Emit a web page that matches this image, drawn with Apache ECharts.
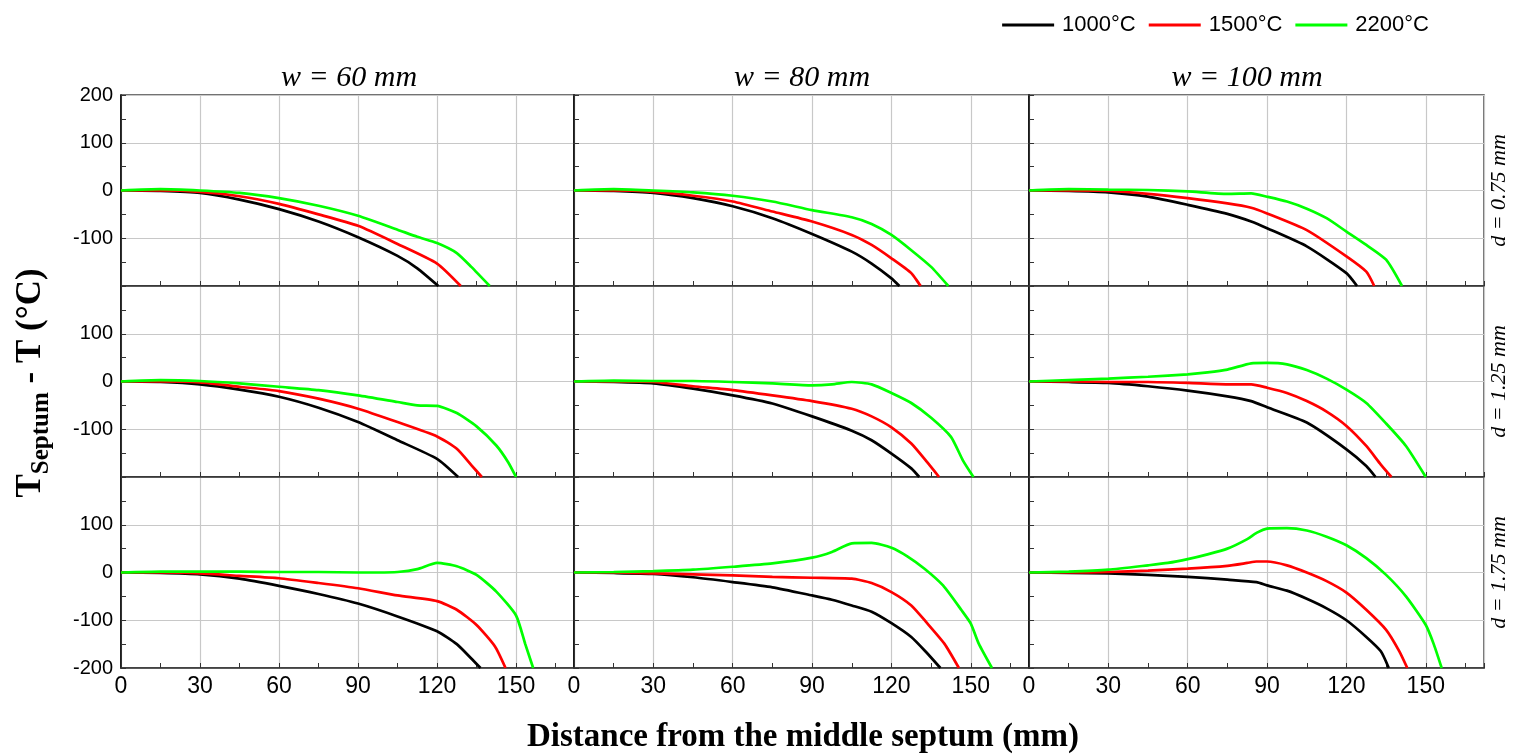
<!DOCTYPE html>
<html>
<head>
<meta charset="utf-8">
<script src="https://cdn.jsdelivr.net/npm/echarts@6/dist/echarts.min.js"></script>
<style>
  html, body { margin: 0; padding: 0; background: #fff; }
  #chart { width: 1520px; height: 754px; }
</style>
</head>
<body>
<div id="chart"></div>
<script>
// Panel headings: septum width (columns) and wall thickness (rows)
const widthLabels = ['w = 60 mm', 'w = 80 mm', 'w = 100 mm'];
const thicknessLabels = ['d = 0.75 mm', 'd = 1.25 mm', 'd = 1.75 mm'];
const temperatures = ['1000°C', '1500°C', '2200°C'];
const lineColors = ['#000000', '#ff0000', '#00ff00'];

// [distance mm, T_septum - T °C] for each panel and temperature
const w60_d075_t1000 = [[0,0],[15,-1],[30,-5],[45,-19],[60,-39],[75,-65],[90,-98],[105,-137],[112.5,-163],[120.5,-200]];
const w60_d075_t1500 = [[0,0],[15,0],[30,-3],[45,-12],[60,-28],[75,-50],[90,-74],[105,-112],[120,-153],[129,-200]];
const w60_d075_t2200 = [[0,0],[15,3],[30,0],[45,-5],[60,-16],[75,-32],[90,-53],[105,-82],[112.5,-97],[120,-110],[127.5,-131],[133,-160],[140,-200]];

const w80_d075_t1000 = [[0,0],[15,-1],[30,-5],[45,-16],[60,-33],[75,-58],[90,-91],[105,-128],[112.5,-153],[120,-184],[123,-200]];
const w80_d075_t1500 = [[0,0],[15,0],[30,-3],[45,-11],[60,-23],[75,-44],[90,-65],[105,-93],[112.5,-114],[120,-142],[127.5,-173],[131,-200]];
const w80_d075_t2200 = [[0,0],[15,3],[30,0],[45,-4],[60,-11],[75,-23],[90,-41],[105,-56],[112.5,-70],[120,-93],[127.5,-125],[135,-160],[141.5,-200]];

const w100_d075_t1000 = [[0,0],[15,-1],[30,-4],[45,-13],[60,-30],[75,-49],[84,-65],[90,-79],[105,-117],[120,-173],[124,-200]];
const w100_d075_t1500 = [[0,0],[15,0],[30,-1],[45,-7],[60,-16],[75,-27],[84,-36],[90,-48],[105,-83],[120,-138],[127.5,-170],[130.5,-200]];
const w100_d075_t2200 = [[0,0],[15,3],[30,2],[45,1],[60,-2],[75,-7],[84,-6],[90,-13],[97.5,-23],[105,-38],[112.5,-58],[120,-86],[127.5,-114],[135,-145],[141,-200]];

const w60_d125_t1000 = [[0,0],[15,-1],[30,-6],[45,-17],[60,-32],[75,-55],[90,-85],[105,-123],[120,-162],[128,-200]];
const w60_d125_t1500 = [[0,0],[15,0],[30,-2],[45,-11],[60,-20],[75,-36],[90,-57],[105,-85],[120,-115],[127.5,-141],[133,-175],[137,-200]];
const w60_d125_t2200 = [[0,0],[15,3],[30,1],[45,-4],[60,-11],[75,-18],[90,-29],[105,-43],[112.5,-50],[120,-51],[127.5,-66],[135,-94],[142.5,-134],[147,-169],[150,-200]];

const w80_d125_t1000 = [[0,0],[15,-1],[30,-4],[45,-15],[60,-29],[75,-46],[90,-73],[105,-103],[112.5,-123],[120,-151],[127.5,-182],[130.5,-200]];
const w80_d125_t1500 = [[0,0],[15,0],[30,-1],[45,-10],[60,-18],[75,-29],[90,-41],[105,-57],[112.5,-73],[120,-96],[127.5,-130],[133.5,-169],[138,-200]];
const w80_d125_t2200 = [[0,0],[15,2],[30,1],[45,1],[60,-1],[75,-4],[90,-8],[97.5,-6],[105,-1],[112.5,-6],[120,-24],[127.5,-45],[135,-76],[142.5,-116],[147,-165],[151,-200]];

const w100_d125_t1000 = [[0,0],[15,-1],[30,-3],[45,-10],[60,-19],[75,-31],[84,-41],[90,-54],[105,-86],[120,-142],[127.5,-177],[131,-200]];
const w100_d125_t1500 = [[0,0],[15,0],[30,-1],[45,-1],[60,-3],[75,-6],[84,-6],[90,-13],[97.5,-24],[105,-41],[112.5,-63],[120,-93],[127.5,-135],[133,-174],[137,-200]];
const w100_d125_t2200 = [[0,0],[15,3],[30,6],[45,10],[60,15],[67.5,19],[75,25],[84,38],[90,39],[97.5,36],[105,24],[112.5,6],[120,-17],[127.5,-45],[135,-88],[142.5,-135],[150,-200]];

const w60_d175_t1000 = [[0,0],[15,-1],[30,-4],[45,-13],[60,-28],[75,-45],[90,-65],[105,-92],[120,-123],[127.5,-150],[133,-180],[136.5,-200]];
const w60_d175_t1500 = [[0,0],[15,0],[30,-2],[45,-7],[60,-12],[75,-22],[90,-33],[105,-48],[120,-60],[127.5,-78],[135,-110],[142,-155],[146,-200]];
const w60_d175_t2200 = [[0,0],[15,2],[30,2],[45,2],[60,1],[75,1],[90,0],[97.5,0],[105,1],[112.5,7],[120,20],[127.5,13],[135,-5],[142.5,-40],[150,-90],[153.5,-150],[156.5,-200]];

const w80_d175_t1000 = [[0,0],[15,-1],[30,-3],[45,-10],[60,-20],[75,-31],[90,-48],[97.5,-57],[105,-69],[112.5,-82],[120,-106],[127.5,-135],[133,-166],[138.5,-200]];
const w80_d175_t1500 = [[0,0],[15,0],[30,-2],[45,-4],[60,-6],[75,-9],[90,-11],[105,-13],[112.5,-22],[120,-41],[127.5,-69],[133,-103],[140,-149],[145.5,-200]];
const w80_d175_t2200 = [[0,0],[15,1],[30,3],[45,6],[60,12],[75,19],[90,31],[97.5,43],[105,61],[112.5,62],[120,52],[126,34],[132.5,8],[139.5,-27],[146.5,-79],[150,-107],[153,-149],[158,-200]];

const w100_d175_t1000 = [[0,0],[15,-1],[30,-2],[45,-5],[60,-9],[75,-15],[86,-20],[90,-27],[97.5,-38],[105,-55],[112.5,-75],[120,-100],[127.5,-135],[133,-165],[136,-200]];
const w100_d175_t1500 = [[0,0],[15,0],[30,1],[45,4],[60,8],[75,14],[82.5,20],[86,23],[90,23],[97.5,15],[105,0],[112.5,-18],[120,-42],[127.5,-78],[135,-120],[140,-165],[143,-200]];
const w100_d175_t2200 = [[0,0],[15,2],[30,6],[45,15],[52.5,20],[60,28],[67.5,38],[75,50],[82.5,70],[86,83],[90,92],[97.5,93],[105,88],[112.5,75],[120,57],[127.5,30],[135,-5],[142.5,-50],[150,-110],[153,-150],[156,-200]];

// panels[row][col] -> curves in temperature order
const panels = [
  [[w60_d075_t1000, w60_d075_t1500, w60_d075_t2200], [w80_d075_t1000, w80_d075_t1500, w80_d075_t2200], [w100_d075_t1000, w100_d075_t1500, w100_d075_t2200]],
  [[w60_d125_t1000, w60_d125_t1500, w60_d125_t2200], [w80_d125_t1000, w80_d125_t1500, w80_d125_t2200], [w100_d125_t1000, w100_d125_t1500, w100_d125_t2200]],
  [[w60_d175_t1000, w60_d175_t1500, w60_d175_t2200], [w80_d175_t1000, w80_d175_t1500, w80_d175_t2200], [w100_d175_t1000, w100_d175_t1500, w100_d175_t2200]]
];

// Axis ranges
const X_MIN = 0, X_MAX = 172, X_STEP = 30;
const Y_MIN = -200, Y_MAX = 200, Y_STEP = 100;

// Layout of the 3x3 panel grid (px)
const colLeft = [121, 574, 1029];
const colWidth = [453, 455, 455];
const titleCenter = [349, 802, 1247];
const rowTop = [95, 286, 477];
const rowHeight = 191;

const SANS = '"Liberation Sans", Arial, sans-serif';
const SERIF = '"Liberation Serif", "Times New Roman", serif';

const grids = [], xAxes = [], yAxes = [], series = [];
for (let r = 0; r < 3; r++) {
  for (let c = 0; c < 3; c++) {
    const idx = r * 3 + c;
    grids.push({
      left: colLeft[c], top: rowTop[r], width: colWidth[c], height: rowHeight,
      containLabel: false, outerBoundsMode: 'none',
      show: true, borderColor: '#444', borderWidth: 1.5, backgroundColor: 'transparent'
    });
    xAxes.push({
      type: 'value', gridIndex: idx, min: X_MIN, max: X_MAX, interval: X_STEP,
      axisLine: { show: true, onZero: false, lineStyle: { color: '#333', width: 1.5 } },
      axisTick: { show: true, inside: true, length: 5, lineStyle: { color: '#333' } },
      minorTick: { show: true, splitNumber: 2, length: 5, lineStyle: { color: '#333' } },
      splitLine: { show: true, lineStyle: { color: '#c8c8c8', width: 1.2 } },
      axisLabel: {
        show: r === 2, showMaxLabel: false, margin: 7,
        fontSize: 23, color: '#000', fontFamily: SANS
      }
    });
    yAxes.push({
      type: 'value', gridIndex: idx, min: Y_MIN, max: Y_MAX, interval: Y_STEP,
      axisLine: { show: true, onZero: false, lineStyle: { color: '#000', width: 1.5 } },
      axisTick: { show: true, inside: true, length: 5, lineStyle: { color: '#333' } },
      minorTick: { show: true, splitNumber: 2, length: 5, lineStyle: { color: '#333' } },
      splitLine: { show: true, lineStyle: { color: '#c8c8c8', width: 1.2 } },
      axisLabel: {
        show: c === 0, showMinLabel: r === 2, showMaxLabel: r === 0, margin: 8,
        fontSize: 20, color: '#000', fontFamily: SANS
      }
    });
    panels[r][c].forEach((curve, k) => {
      series.push({
        type: 'line', name: temperatures[k], xAxisIndex: idx, yAxisIndex: idx,
        data: curve, symbol: 'none', clip: true, silent: true, smooth: 0.2,
        lineStyle: { color: lineColors[k], width: 2.7 },
        itemStyle: { color: lineColors[k] }
      });
    });
  }
}

// Measure text widths for the composed y-axis title
function textWidth(font, s) {
  const ctx = document.createElement('canvas').getContext('2d');
  ctx.font = font;
  return ctx.measureText(s).width;
}
const fontMain = 'bold 35px ' + SERIF;
const fontSub = 'bold 25px ' + SERIF;
const partA = 'T', partB = 'Septum', partC = ' - T (°C)';
const wA = textWidth(fontMain, partA), wB = textWidth(fontSub, partB), wC = textWidth(fontMain, partC);
const total = wA + wB + wC;
const x0 = -total / 2;

const graphics = [
  {
    type: 'group', x: 31, y: 383, rotation: Math.PI / 2,
    children: [
      { type: 'text', x: x0, y: 0, style: { text: partA, font: fontMain, fill: '#000', align: 'left', verticalAlign: 'middle' } },
      { type: 'text', x: x0 + wA, y: 11, style: { text: partB, font: fontSub, fill: '#000', align: 'left', verticalAlign: 'middle' } },
      { type: 'text', x: x0 + wA + wB, y: 0, style: { text: partC, font: fontMain, fill: '#000', align: 'left', verticalAlign: 'middle' } }
    ]
  },
  {
    type: 'text', x: 803, y: 737,
    style: { text: 'Distance from the middle septum (mm)', font: 'bold 33px ' + SERIF, fill: '#000', align: 'center', verticalAlign: 'middle' }
  }
];
thicknessLabels.forEach((t, r) => {
  graphics.push({
    type: 'text', x: 1499, y: rowTop[r] + rowHeight / 2, rotation: Math.PI / 2,
    style: { text: t, font: 'italic 22px ' + SERIF, fill: '#000', align: 'center', verticalAlign: 'middle' }
  });
});

const titles = widthLabels.map((t, c) => ({
  text: t, left: titleCenter[c], top: 63, textAlign: 'center', padding: 0,
  textStyle: { fontFamily: SERIF, fontStyle: 'italic', fontWeight: 'normal', fontSize: 30, color: '#000' }
}));

const chart = echarts.init(document.getElementById('chart'), null, { renderer: 'canvas' });
chart.setOption({
  animation: false,
  backgroundColor: '#fff',
  title: titles,
  legend: {
    data: temperatures, top: 9, right: 86, icon: 'rect', itemWidth: 52, itemHeight: 3, itemGap: 13,
    textStyle: { fontSize: 22, fontFamily: SANS, color: '#000', padding: [0, 0, 0, 3] }
  },
  grid: grids,
  xAxis: xAxes,
  yAxis: yAxes,
  series: series,
  graphic: graphics
});
</script>
</body>
</html>
